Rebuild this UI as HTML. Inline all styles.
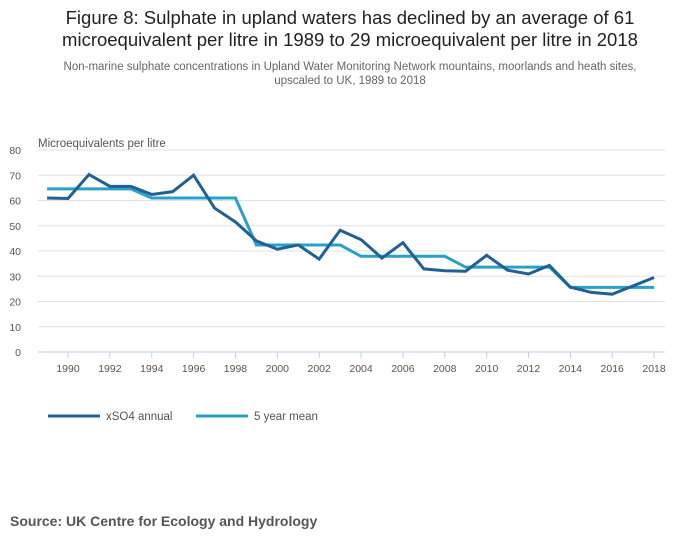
<!DOCTYPE html>
<html><head><meta charset="utf-8"><style>
body{margin:0;width:700px;height:549px;background:#fff;font-family:"Liberation Sans",sans-serif;overflow:hidden}
</style></head><body>
<svg width="700" height="549" font-family="Liberation Sans, sans-serif">
<text x="350" y="24" text-anchor="middle" font-size="18.5" fill="#222">Figure 8: Sulphate in upland waters has declined by an average of 61</text>
<text x="350" y="46" text-anchor="middle" font-size="18.5" fill="#222">microequivalent per litre in 1989 to 29 microequivalent per litre in 2018</text>
<text x="350" y="70" text-anchor="middle" font-size="11.5" fill="#666">Non-marine sulphate concentrations in Upland Water Monitoring Network mountains, moorlands and heath sites,</text>
<text x="350" y="84" text-anchor="middle" font-size="11.5" fill="#666">upscaled to UK, 1989 to 2018</text>
<text x="38" y="147" font-size="11.5" fill="#555">Microequivalents per litre</text>
<g id="grid"></g><g id="xaxis"></g><g id="lines"></g>
<line x1="48" y1="416" x2="100" y2="416" stroke="#206095" stroke-width="3"/>
<text x="106" y="420" font-size="11.5" fill="#555">xSO4 annual</text>
<line x1="196" y1="416" x2="248" y2="416" stroke="#27a0cc" stroke-width="3"/>
<text x="254" y="420" font-size="11.5" fill="#555">5 year mean</text>
<text x="10" y="526" font-size="14" font-weight="bold" fill="#555">Source: UK Centre for Ecology and Hydrology</text>
</svg>
<script>
const years=[1989,1990,1991,1992,1993,1994,1995,1996,1997,1998,1999,2000,2001,2002,2003,2004,2005,2006,2007,2008,2009,2010,2011,2012,2013,2014,2015,2016,2017,2018];
const annual=[61,60.8,70.3,65.6,65.6,62.4,63.5,70,57,51.5,44,40.7,42.4,36.8,48.2,44.5,37.2,43.3,32.9,32.2,32,38.3,32.4,30.9,34.3,25.7,23.6,22.9,26.2,29.5];
const mean5=[64.6,64.6,64.6,64.6,64.6,61,61,61,61,61,42.4,42.4,42.4,42.4,42.4,37.9,37.9,37.9,37.9,37.9,33.6,33.6,33.6,33.6,33.6,25.6,25.6,25.6,25.6,25.6];
const yTicks=[0,10,20,30,40,50,60,70,80];
const xTicks=[1990,1992,1994,1996,1998,2000,2002,2004,2006,2008,2010,2012,2014,2016,2018];
const NS="http://www.w3.org/2000/svg";
const X=yr=>47.1+(yr-1989)*20.93;
const Y=v=>352-v*2.525;
function mk(t,a,p){const e=document.createElementNS(NS,t);for(const k in a)e.setAttribute(k,a[k]);p.appendChild(e);return e;}
const g=document.getElementById('grid');
yTicks.forEach(v=>{
 const l=mk('line',{x1:38,x2:665,y1:Y(v),y2:Y(v),stroke:v===0?'#bcd0e8':'#e0e0e0','stroke-width':1},g);
 
 
 const t=mk('text',{x:21,y:Y(v)+4,'text-anchor':'end','font-size':10.5,fill:'#555'},g);
 t.textContent=v;
 
 
});
const xa=document.getElementById('xaxis');
xTicks.forEach(yr=>{
 const l=mk('line',{x1:X(yr),x2:X(yr),y1:352,y2:358,stroke:'#bcd0e8'},xa);
 
 
 const t=mk('text',{x:X(yr),y:372,'text-anchor':'middle','font-size':10.5,fill:'#555'},xa);
 t.textContent=yr;
 
 
});
const ln=document.getElementById('lines');
function series(vals,color,name){
 const p=mk('polyline',{points:vals.map((v,i)=>X(years[i])+','+Y(v)).join(' '),fill:'none',stroke:color,'stroke-width':3,'stroke-linejoin':'miter'},ln);
 
 
}
series(mean5,'#27a0cc','line-5-year-mean');
series(annual,'#206095','line-xso4-annual');
</script>
</body></html>
